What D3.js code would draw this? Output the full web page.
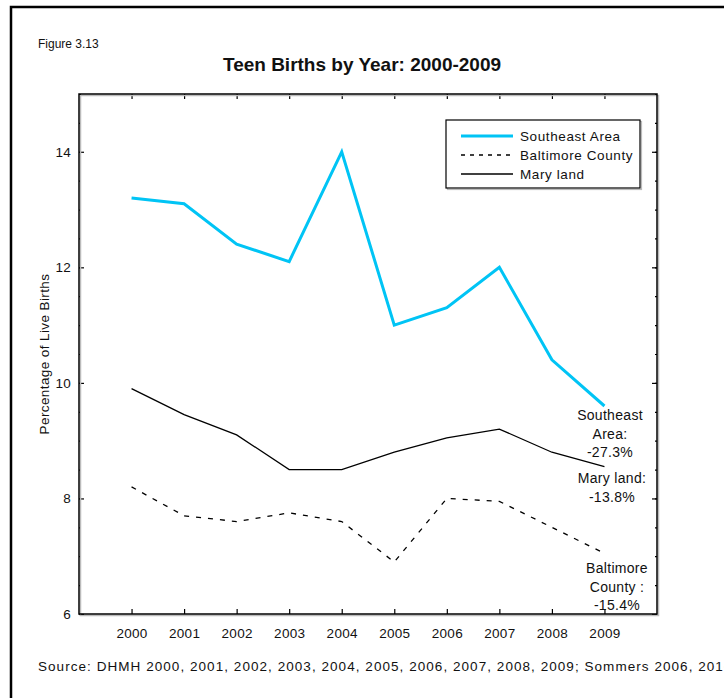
<!DOCTYPE html>
<html>
<head>
<meta charset="utf-8">
<script src="https://cdn.jsdelivr.net/npm/d3@7"></script>
<style>
  body { margin: 0; background: #fff; }
  text { font-family: "Liberation Sans", Arial, sans-serif; fill: #111; }
</style>
</head>
<body>
<div id="chart"></div>
<script>
const years = [2000, 2001, 2002, 2003, 2004, 2005, 2006, 2007, 2008, 2009];
const southeast = [13.2, 13.1, 12.4, 12.1, 14.0, 11.0, 11.3, 12.0, 10.4, 9.6];
const baltimore = [8.2, 7.7, 7.6, 7.75, 7.6, 6.9, 8.0, 7.95, 7.5, 7.05];
const maryland = [9.9, 9.45, 9.1, 8.5, 8.5, 8.8, 9.05, 9.2, 8.8, 8.55];
const yTicks = [6, 8, 10, 12, 14];

const seriesList = [
  { name: "Southeast Area", values: southeast, color: "#00c4f5", width: 3, dash: null },
  { name: "Baltimore County", values: baltimore, color: "#000", width: 1.3, dash: "5,7" },
  { name: "Mary land", values: maryland, color: "#000", width: 1.3, dash: null }
];

const W = 724, H = 698;
const plot = { left: 79, top: 94, right: 657, bottom: 614 };

const svg = d3.select("#chart").append("svg")
  .attr("width", W)
  .attr("height", H);

// outer frame (runs off right/bottom edge)
svg.append("rect")
  .attr("x", 11).attr("y", 7)
  .attr("width", W + 20).attr("height", H + 20)
  .attr("fill", "none")
  .attr("stroke", "#000")
  .attr("stroke-width", 2.5);

const x = d3.scaleLinear().domain([1999, 2010]).range([plot.left, plot.right]);
const y = d3.scaleLinear().domain([6, 15]).range([plot.bottom, plot.top]);

// labels
svg.append("text")
  .attr("x", 38).attr("y", 48)
  .style("font-size", "12px")
  .text("Figure 3.13");

svg.append("text")
  .attr("x", 362).attr("y", 71)
  .attr("text-anchor", "middle")
  .style("font-size", "19px")
  .style("font-weight", "700")
  .text("Teen Births by Year: 2000-2009");

svg.append("text")
  .attr("transform", `translate(49, ${(plot.top + plot.bottom) / 2}) rotate(-90)`)
  .attr("text-anchor", "middle")
  .style("font-size", "13.5px")
  .style("letter-spacing", "0.4px")
  .text("Percentage of Live Births");

svg.append("text")
  .attr("x", 38).attr("y", 671)
  .style("font-size", "13.5px")
  .style("letter-spacing", "1.05px")
  .text("Source: DHMH 2000, 2001, 2002, 2003, 2004, 2005, 2006, 2007, 2008, 2009; Sommers 2006, 2010");

// axes: inward ticks on all four sides
const minor = d3.range(6, 15.01, 0.5);

svg.append("g")
  .attr("transform", `translate(0,${plot.bottom})`)
  .call(d3.axisBottom(x).tickValues(years).tickSize(-5).tickPadding(14).tickFormat(d3.format("d")));
svg.append("g")
  .attr("transform", `translate(0,${plot.top})`)
  .call(d3.axisTop(x).tickValues(years).tickSize(-5).tickFormat(""));
svg.append("g")
  .attr("transform", `translate(${plot.left},0)`)
  .call(d3.axisLeft(y).tickValues(minor).tickSize(-2).tickFormat(""));
svg.append("g")
  .attr("transform", `translate(${plot.left},0)`)
  .call(d3.axisLeft(y).tickValues(yTicks).tickSize(-5).tickPadding(8).tickFormat(d3.format("d")));
svg.append("g")
  .attr("transform", `translate(${plot.right},0)`)
  .call(d3.axisRight(y).tickValues(minor).tickSize(-2).tickFormat(""));
svg.append("g")
  .attr("transform", `translate(${plot.right},0)`)
  .call(d3.axisRight(y).tickValues(yTicks).tickSize(-5).tickFormat(""));

svg.selectAll(".domain").remove();
svg.selectAll(".tick line").attr("stroke", "#000").attr("stroke-width", 1.2);
svg.selectAll(".tick text")
  .style("font-size", "13.5px")
  .style("letter-spacing", "0.3px")
  .style("font-family", "Liberation Sans, Arial, sans-serif")
  .attr("fill", "#111");

// plot box with faint shadow
svg.append("rect")
  .attr("x", plot.left + 1.5).attr("y", plot.top + 1.5)
  .attr("width", plot.right - plot.left).attr("height", plot.bottom - plot.top)
  .attr("fill", "none").attr("stroke", "#bbb").attr("stroke-width", 1.5);
svg.append("rect")
  .attr("x", plot.left).attr("y", plot.top)
  .attr("width", plot.right - plot.left).attr("height", plot.bottom - plot.top)
  .attr("fill", "none").attr("stroke", "#000").attr("stroke-width", 1.5);

// lines
const line = d3.line()
  .x((d, i) => x(years[i]))
  .y(d => y(d));

seriesList.forEach(s => {
  svg.append("path")
    .datum(s.values)
    .attr("fill", "none")
    .attr("stroke", s.color)
    .attr("stroke-width", s.width)
    .attr("stroke-dasharray", s.dash)
    .attr("d", line);
});

// legend
const lg = { x: 446, y: 120, w: 194, h: 68 };
svg.append("rect")
  .attr("x", lg.x + 1.5).attr("y", lg.y + 1.5)
  .attr("width", lg.w).attr("height", lg.h)
  .attr("fill", "none").attr("stroke", "#bbb").attr("stroke-width", 1.2);
svg.append("rect")
  .attr("x", lg.x).attr("y", lg.y)
  .attr("width", lg.w).attr("height", lg.h)
  .attr("fill", "#fff").attr("stroke", "#000").attr("stroke-width", 1.2);

seriesList.forEach((s, i) => {
  const ly = lg.y + 16 + i * 19;
  svg.append("line")
    .attr("x1", lg.x + 15).attr("x2", lg.x + 67)
    .attr("y1", ly).attr("y2", ly)
    .attr("stroke", s.color)
    .attr("stroke-width", s.width)
    .attr("stroke-dasharray", s.dash ? "4,5" : null);
  svg.append("text")
    .attr("x", lg.x + 74).attr("y", ly + 5)
    .style("font-size", "13.5px")
    .style("letter-spacing", "0.6px")
    .text(s.name);
});

// end annotations
const notes = [
  { x: 610, y: 420, lines: ["Southeast", "Area:", "-27.3%"] },
  { x: 612, y: 483, lines: ["Mary land:", "-13.8%"] },
  { x: 617, y: 573, lines: ["Baltimore", "County :", "-15.4%"] }
];
notes.forEach(n => {
  const t = svg.append("text")
    .attr("text-anchor", "middle")
    .style("font-size", "14px")
    .style("letter-spacing", "0.3px");
  n.lines.forEach((l, i) => {
    t.append("tspan")
      .attr("x", n.x)
      .attr("y", n.y + i * 18.5)
      .text(l);
  });
});
</script>
</body>
</html>
